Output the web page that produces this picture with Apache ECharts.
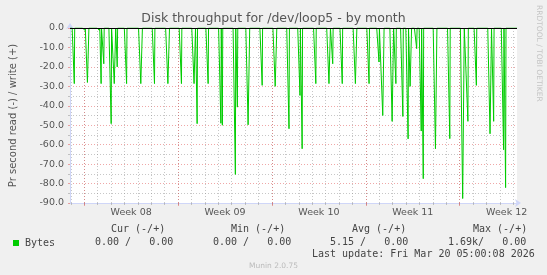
<!DOCTYPE html>
<html><head><meta charset="utf-8">
<script src="https://cdn.jsdelivr.net/npm/echarts@6/dist/echarts.min.js"></script>
<style>html,body{margin:0;padding:0;background:#f0f0f0}#c{width:547px;height:275px}</style>
</head><body><div id="c"></div>
<script>
// ---- data ----
const titleText = 'Disk throughput for /dev/loop5 - by month';
const yAxisName = 'Pr second read (-) / write (+)';
const weekLabels = ['Week 08', 'Week 09', 'Week 10', 'Week 11', 'Week 12'];
const weekStarts = [0, 7, 14, 21, 28];          // days since Monday of Week 08
const weekMids = [3.5, 10.5, 17.5, 24.5, 31.5];
const dayLines = [-1, 0, 1, 2, 3, 4, 5, 6, 7, 8, 9, 10, 11, 12, 13, 14, 15, 16, 17, 18, 19, 20, 21, 22, 23, 24, 25, 26, 27, 28, 29, 30, 31, 32];
const xMin = -1.06, xMax = 32.27;
const yMin = -90, yMax = 0;
// read spikes (days since Week 08 Monday, value read as negative)
const spikeDays = [-0.74, 0.05, 0.24, 0.32, 1.13, 1.26, 1.46, 2.01, 2.24, 2.32, 2.46, 3.16, 4.22, 4.31, 5.24, 6.24, 6.33, 7.25,
  8.19, 8.27, 8.42, 9.24, 10.19, 10.30, 11.27, 11.42, 12.22, 12.31, 13.27, 14.24, 14.33, 15.27, 16.09, 16.25, 17.27,
  18.25, 18.33, 18.53, 19.24, 20.22, 20.30, 21.24, 21.98, 22.26, 22.33, 22.96, 23.04, 23.24, 23.76, 24.15, 24.30, 24.38,
  24.79, 25.13, 25.28, 26.19, 26.27, 27.26, 28.22, 28.31, 28.61, 29.24, 30.26, 30.34, 30.53, 31.27, 31.42];
const spikeReads = [-28.6, -1.2, -28.0, -28.0, -1.2, -28.6, -18.4, -49.2, -28.6, -28.6, -20.0, -28.6, -28.6, -28.6, -28.6, -28.6, -28.6, -28.6,
  -28.6, -28.6, -49.2, -28.6, -49.0, -50.0, -75.3, -40.7, -49.8, -49.8, -29.5, -30.0, -30.0, -51.8, -34.7, -62.1, -28.6,
  -28.6, -28.6, -18.4, -28.6, -28.6, -28.6, -28.6, -17.5, -45.0, -45.0, -48.0, -48.0, -28.6, -45.5, -57.0, -30.0, -30.0,
  -10.6, -53.0, -77.5, -62.1, -62.1, -56.9, -87.7, -87.7, -48.0, -29.5, -54.4, -54.4, -48.0, -62.6, -82.1];
const seriesName = 'Bytes';
const statHeaders = ['Cur (-/+)', 'Min (-/+)', 'Avg (-/+)', 'Max (-/+)'];
const statValues = ['0.00 /   0.00', '0.00 /   0.00', '5.15 /   0.00', '1.69k/   0.00'];
const lastUpdate = 'Last update: Fri Mar 20 05:00:08 2026';
const footer = 'Munin 2.0.75';
const sideText = 'RRDTOOL / TOBI OETIKER';

// ---- build line data: reads are 0 except at spikes ----
const pts = [];
const pre = 0.17, post = 0.03;
let prevEnd = xMin;
for (let i = 0; i < spikeDays.length; ) {
  let j = i;
  while (j + 1 < spikeDays.length && spikeDays[j + 1] - spikeDays[j] <= 0.1) j++;
  const t0 = spikeDays[i];
  pts.push([Math.max(t0 - pre, (prevEnd + t0) / 2), 0]);
  for (let k = i; k <= j; k++) pts.push([spikeDays[k], spikeReads[k]]);
  prevEnd = spikeDays[j] + post;
  pts.push([prevEnd, 0]);
  i = j + 1;
}
pts.unshift([xMin, 0]);
pts.push([xMax, 0]);

const AXIS = '#CFD6F8';
const GRID = 'rgba(144,144,144,0.5)';
const MGRID = 'rgba(224,80,80,0.5)';
const chart = echarts.init(document.getElementById('c'), null, {renderer: 'canvas'});
chart.setOption({
  backgroundColor: '#f0f0f0',
  animation: false,
  title: {text: titleText, left: 'center', top: 12, padding: 0,
    textStyle: {fontFamily: 'DejaVu Sans', fontSize: 12.5, fontWeight: 'normal', color: '#555'}},
  grid: {left: 67, top: 28, width: 450, height: 175, show: true, backgroundColor: '#ffffff', borderWidth: 0},
  legend: {data: [seriesName], left: 13, top: 238, icon: 'rect', itemWidth: 6, itemHeight: 6, itemGap: 0, padding: 0,
    textStyle: {fontFamily: 'DejaVu Sans Mono', fontSize: 10, color: '#444', padding: [0, 0, 0, 1]}},
  xAxis: [{
    type: 'value', min: xMin, max: xMax, position: 'bottom',
    axisLine: {show: true, onZero: false, lineStyle: {color: AXIS, width: 1}, symbol: ['none', 'arrow'], symbolSize: [6, 6], symbolOffset: [0, 4]},
    axisTick: {show: true, length: 2, customValues: dayLines, lineStyle: {color: GRID}},
    splitLine: {show: true, lineStyle: {color: GRID, type: [1, 2], width: 1}},
    axisLabel: {show: true, customValues: weekMids, margin: 5,
      formatter: v => weekLabels[weekMids.indexOf(v)],
      fontFamily: 'DejaVu Sans', fontSize: 9.5, color: '#555'}
  }, {
    type: 'value', min: xMin, max: xMax, position: 'bottom',
    axisLine: {show: false, onZero: false},
    axisTick: {show: true, length: 3, customValues: weekStarts, lineStyle: {color: MGRID}},
    splitLine: {show: true, lineStyle: {color: MGRID, type: [1, 2], width: 1}},
    axisLabel: {show: false}
  }],
  yAxis: {
    type: 'value', min: yMin, max: yMax, interval: 10, position: 'left',
    name: yAxisName, nameLocation: 'middle', nameGap: 52,
    nameTextStyle: {fontFamily: 'DejaVu Sans', fontSize: 10, color: '#555'},
    axisLine: {show: true, onZero: false, lineStyle: {color: AXIS, width: 1}, symbol: ['none', 'arrow'], symbolSize: [6, 6], symbolOffset: [0, 5]},
    axisTick: {show: true, length: 2, lineStyle: {color: MGRID}},
    minorTick: {show: true, splitNumber: 2, length: 2, lineStyle: {color: GRID}},
    splitLine: {show: true, lineStyle: {color: MGRID, type: [1, 2]}},
    minorSplitLine: {show: true, lineStyle: {color: GRID, type: [1, 2]}},
    axisLabel: {formatter: v => v.toFixed(1), margin: 6, fontFamily: 'DejaVu Sans', fontSize: 9.5, color: '#555'}
  },
  series: [{
    name: seriesName, type: 'line', xAxisIndex: 0, data: pts, showSymbol: false, symbol: 'none',
    color: '#00cc00', lineStyle: {color: '#00cc00', width: 1}, z: 3,
    markLine: {silent: true, symbol: 'none', label: {show: false}, lineStyle: {color: '#000', width: 1, type: 'solid'},
      data: [{yAxis: 0}]}
  }],
  graphic: [
    ...statHeaders.map((t, i) => ({type: 'text', left: [111, 231, 352, 473][i], top: 224,
      style: {text: t, font: '10px "DejaVu Sans Mono"', fill: '#444'}})),
    ...statValues.map((t, i) => ({type: 'text', left: [95, 213, 330, 448][i], top: 237.5,
      style: {text: t, font: '10px "DejaVu Sans Mono"', fill: '#444'}})),
    {type: 'text', left: 312, top: 249.5, style: {text: lastUpdate, font: '10px "DejaVu Sans Mono"', fill: '#444'}},
    {type: 'text', left: 'center', top: 262, style: {text: footer, font: '7.5px "DejaVu Sans"', fill: '#bbb'}},
    {type: 'text', x: 539, y: 5, rotation: -Math.PI / 2,
      style: {text: sideText, font: '7.5px "DejaVu Sans"', fill: '#c4c4c4', textAlign: 'left', textVerticalAlign: 'middle'}}
  ]
});
</script></body></html>
